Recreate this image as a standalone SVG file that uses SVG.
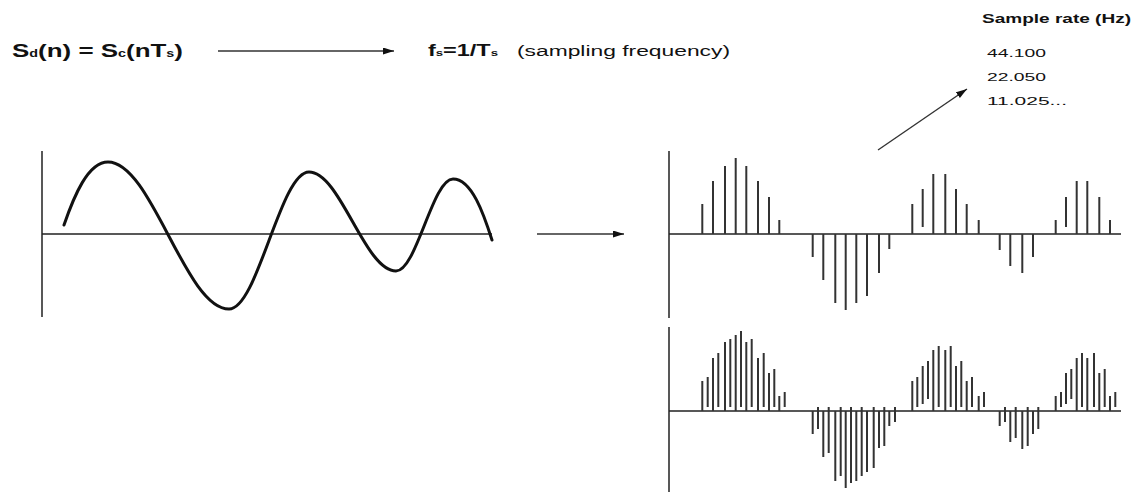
<svg xmlns="http://www.w3.org/2000/svg" width="1134" height="492" viewBox="0 0 1134 492">
  <defs>
    <marker id="ah" markerUnits="userSpaceOnUse" markerWidth="12" markerHeight="8" refX="11" refY="3.5" orient="auto">
      <path d="M0,0 L11,3.5 L0,7 z" fill="#111"/>
    </marker>
  </defs>
  <style>
    .t { font-family: "Liberation Sans", Arial, sans-serif; fill: #111; }
    .b { font-weight: bold; }
    .axis { stroke: #222; stroke-width: 1.5; fill: none; }
    .stem { stroke: #333; stroke-width: 2; fill: none; }
    .wave { stroke: #111; stroke-width: 3; fill: none; stroke-linecap: round; }
    .conn { stroke: #333; stroke-width: 1.4; fill: none; marker-end: url(#ah); }
  </style>
  <rect width="1134" height="492" fill="#fff"/>

  <g id="formula">
    <text class="t b" x="12" y="57" font-size="19" textLength="171" lengthAdjust="spacingAndGlyphs">S<tspan font-size="10.5">d</tspan>(n) = S<tspan font-size="10.5">c</tspan>(nT<tspan font-size="10.5">s</tspan>)</text>
  </g>

  <g id="sampling-frequency">
    <text class="t b" x="428" y="56" font-size="17" textLength="70" lengthAdjust="spacingAndGlyphs">f<tspan font-size="9.5">s</tspan>=1/T<tspan font-size="9.5">s</tspan></text>
    <text class="t" x="517" y="56" font-size="14" textLength="213" lengthAdjust="spacingAndGlyphs">(sampling frequency)</text>
  </g>

  <g id="sample-rate">
    <text class="t b" x="982" y="23" font-size="13" textLength="149" lengthAdjust="spacingAndGlyphs">Sample rate (Hz)</text>
    <text class="t" x="987" y="57" font-size="11.5" textLength="59" lengthAdjust="spacingAndGlyphs">44.100</text>
    <text class="t" x="987" y="81" font-size="11.5" textLength="59" lengthAdjust="spacingAndGlyphs">22.050</text>
    <text class="t" x="987" y="105" font-size="11.5" textLength="80" lengthAdjust="spacingAndGlyphs">11.025...</text>
  </g>

  <g id="analog-signal">
    <path class="axis" d="M42,151 V317 M42,234 H492"/>
    <path class="wave" d="M64,225 C74,196 88,162 108,162 C151.6,162 185.4,309 229,309 C257.8,309 280.2,172 309,172 C340.3,172 364.7,271 396,271 C416.5,271 432.5,179 453,179 C472,179 484,215 492,240"/>
  </g>

  <g id="sampled-signal-low-rate">
    <path class="axis" d="M669,151 V318 M669,234 H1121"/>
    <path class="stem" d="M702.3,204V234 M713,181V234 M725,166V234 M735.7,158V234 M746.3,166V234 M758,181V234 M769,197V234 M779.3,220V234
      M812.7,234V257 M823.3,234V280 M835.3,234V303 M845.7,234V310 M856.3,234V303 M867,234V296 M879,234V273 M889.3,234V249
      M912.3,204V234 M922.7,189V227 M933.3,174V234 M945.3,174V234 M956,189V234 M966.7,204V234 M978.7,220V234
      M999.7,234V250 M1010.3,234V266 M1022.3,234V273 M1033,234V257
      M1055.7,220V234 M1066,197V227 M1076.7,181V234 M1087.3,181V234 M1099.3,197V234 M1110,220V234"/>
  </g>

  <g id="sampled-signal-high-rate">
    <path class="axis" d="M669,327 V492 M669,411 H1121"/>
    <path class="stem" d="M702.3,381V411 M707.7,377V407 M713,358V411 M718.3,353V407 M725,342V411 M730.3,339V407 M735.7,335V411 M741,331V407 M746.3,342V411 M751.7,339V407 M758,358V411 M763.7,353V407 M769,373V411 M774.3,369V407 M779.3,396V411 M784.7,392V407
      M812.7,411V434 M818,407V429 M823.3,411V457 M828.7,407V453 M835.3,411V481 M840.7,407V476 M845.7,411V488 M851,407V483 M856.3,411V481 M861.7,407V476 M867,411V472 M873.7,407V468 M879,411V448 M884.3,407V446 M889.3,411V426 M895,407V422
      M912.3,381V411 M917.3,377V407 M922.7,366V404 M928,361V399 M933.3,350V411 M938.7,346V407 M945.3,350V411 M950.7,346V407 M956,366V411 M961.3,361V407 M966.7,381V411 M972,377V407 M978.7,396V411 M984,392V407
      M999.7,411V426 M1005,407V422 M1010.3,411V442 M1015.7,407V438 M1022.3,411V449 M1027.7,407V446 M1033,411V434 M1038.3,407V429
      M1055.7,396V411 M1061,392V407 M1066,373V404 M1071.3,369V399 M1076.7,358V411 M1082,353V407 M1087.3,358V411 M1094,353V407 M1099.3,373V411 M1104.7,369V407 M1110,396V411 M1115.3,392V407"/>
  </g>

  <g id="connectors">
    <line class="conn" x1="218" y1="51" x2="394" y2="51"/>
    <line class="conn" x1="537" y1="234" x2="624" y2="234"/>
    <line class="conn" x1="878" y1="150" x2="967" y2="89"/>
  </g>
</svg>
